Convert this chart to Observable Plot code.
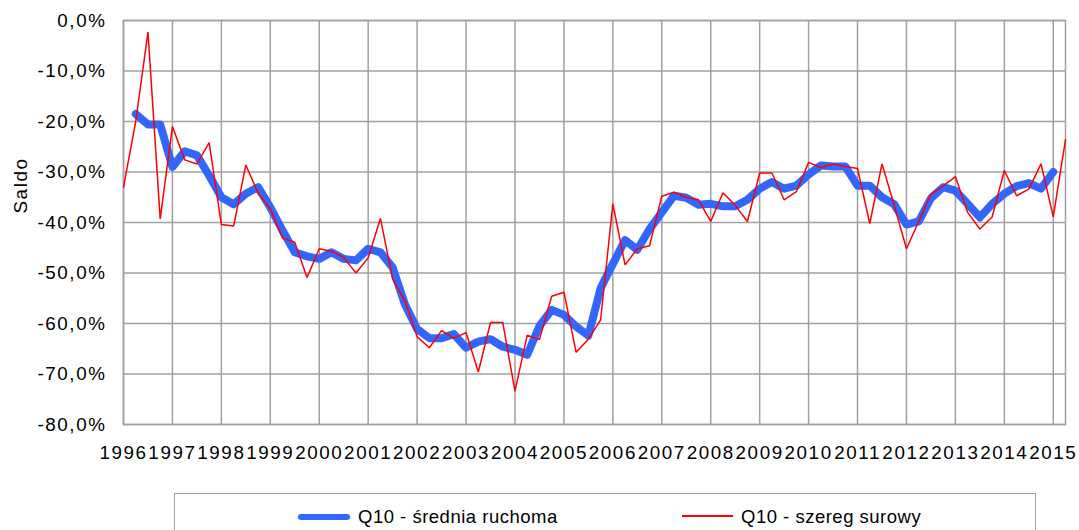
<!DOCTYPE html>
<html>
<head>
<meta charset="utf-8">
<script src="https://cdn.jsdelivr.net/npm/d3@7"></script>
<script src="https://cdn.jsdelivr.net/npm/@observablehq/plot@0.6"></script>
<style>
  body { margin: 0; background: #fff; font-family: "Liberation Sans", Arial, sans-serif; }
  #wrap { position: relative; width: 1079px; height: 530px; overflow: hidden; background: #fff; }
  #chart { position: absolute; left: 0; top: 0; }
  #chart svg text { letter-spacing: 1.6px; }
  #legend { position: absolute; left: 174px; top: 493px; width: 862px; height: 70px; border: 1.5px solid #a0a0a0; box-sizing: border-box; }
  .sw { position: absolute; }
  .lt { position: absolute; font-size: 18.5px; line-height: 18.5px; letter-spacing: 0.5px; color: #000; white-space: nowrap; }
</style>
</head>
<body>
<div id="wrap">
  <div id="chart"></div>
  <div id="legend"></div>
  <div class="sw" style="left:298px;top:514px;width:52px;height:6px;border-radius:3px;background:#3366ff"></div>
  <div class="lt" id="lab0" style="left:358px;top:508px"></div>
  <div class="sw" style="left:682px;top:515px;width:51px;height:2px;background:#ff0000"></div>
  <div class="lt" id="lab1" style="left:741px;top:508px"></div>
</div>
<script>
// Tick labels (one per year, every 4th quarter)
const yearLabels = ["1996","1997","1998","1999","2000","2001","2002","2003","2004","2005",
  "2006","2007","2008","2009","2010","2011","2012","2013","2014","2015"];
const yTicks = [0, -10, -20, -30, -40, -50, -60, -70, -80];
const seriesNames = ["Q10 - średnia ruchoma", "Q10 - szereg surowy"];

// Q10 - szereg surowy (quarterly, 1996Q1 .. 2015Q2), %
const raw = [-33.0, -20.0, -2.3, -39.3, -21.0, -27.6, -28.4, -24.2,
  -40.4, -40.7, -28.6, -34.2, -37.3, -43.1, -43.9, -50.9,
  -45.2, -45.7, -46.9, -50.0, -47.0, -39.2, -51.2, -55.5,
  -62.6, -64.8, -61.4, -62.9, -61.8, -69.6, -59.8, -59.8,
  -73.4, -62.3, -63.2, -54.6, -53.8, -65.7, -63.1, -59.3,
  -36.3, -48.4, -45.2, -44.6, -34.8, -34.0, -35.0, -35.5,
  -39.8, -34.1, -36.6, -39.8, -30.2, -30.2, -35.5, -33.9,
  -28.1, -29.1, -28.4, -28.9, -29.3, -40.2, -28.4, -36.6,
  -45.2, -39.8, -34.4, -32.8, -30.9, -38.0, -41.3, -38.9,
  -29.7, -34.7, -33.4, -28.4, -38.9, -23.6];

// Q10 - średnia ruchoma, %
const ma = [null, -18.5, -20.6, -20.6, -29.0, -25.9, -26.7, -30.7,
  -35.0, -36.4, -34.3, -33.0, -37.0, -41.6, -45.9, -46.7,
  -47.2, -45.9, -47.2, -47.5, -45.2, -45.9, -48.9, -56.2,
  -61.1, -62.9, -62.9, -62.1, -64.8, -63.6, -63.1, -64.6,
  -65.2, -66.2, -60.5, -57.3, -58.3, -60.6, -62.4, -53.0,
  -48.2, -43.5, -45.4, -41.3, -38.0, -34.7, -35.1, -36.5,
  -36.3, -36.8, -36.8, -35.5, -33.3, -32.0, -33.3, -32.7,
  -30.5, -28.7, -28.9, -28.9, -32.7, -32.7, -35.0, -36.4,
  -40.4, -39.8, -35.2, -33.0, -33.7, -36.3, -39.0, -36.3,
  -34.3, -32.8, -32.2, -33.3, -30.0, null];

const rows = raw.map((v, i) => ({ i, raw: v, ma: ma[i] }));
const xTicks = yearLabels.map((_, k) => k * 4);
const fmt = v => (v === 0 ? "0,0%" : "-" + Math.abs(v).toFixed(1).replace(".", ",") + "%");

const chart = Plot.plot({
  width: 1079,
  height: 470,
  marginLeft: 123,
  marginRight: 14,
  marginTop: 20,
  marginBottom: 46,
  style: { fontFamily: "'Liberation Sans', Arial, sans-serif", fontSize: "18.8px", color: "#000", background: "white" },
  x: { type: "linear", domain: [0, raw.length - 1] },
  y: { domain: [-80, 0] },
  marks: [
    Plot.gridY(yTicks, { stroke: "#a0a0a0", strokeOpacity: 1, strokeWidth: 1.5 }),
    Plot.gridX(xTicks, { stroke: "#a0a0a0", strokeOpacity: 1, strokeWidth: 1.5 }),
    Plot.frame({ stroke: "#a0a0a0", strokeWidth: 1.5 }),
    Plot.axisY(yTicks, { tickSize: 0, tickPadding: 17, tickFormat: fmt, label: null, fontSize: 18.8 }),
    Plot.axisX(xTicks, { tickSize: 0, tickPadding: 21, tickFormat: d => yearLabels[d / 4], label: null, fontSize: 18.8 }),
    Plot.text(["Saldo"], { text: d => d, frameAnchor: "left", dx: -103, dy: -37, rotate: -90, textAnchor: "middle", lineAnchor: "middle", fill: "#000", fontSize: 18.8 }),
    Plot.line(rows, { x: "i", y: "ma", stroke: "#3366ff", strokeWidth: 8, strokeLinecap: "round", strokeLinejoin: "round" }),
    Plot.line(rows, { x: "i", y: "raw", stroke: "#ff0000", strokeWidth: 1.5, strokeLinejoin: "miter" })
  ]
});
document.getElementById("chart").appendChild(chart);
document.getElementById("lab0").textContent = seriesNames[0];
document.getElementById("lab1").textContent = seriesNames[1];
</script>
</body>
</html>
